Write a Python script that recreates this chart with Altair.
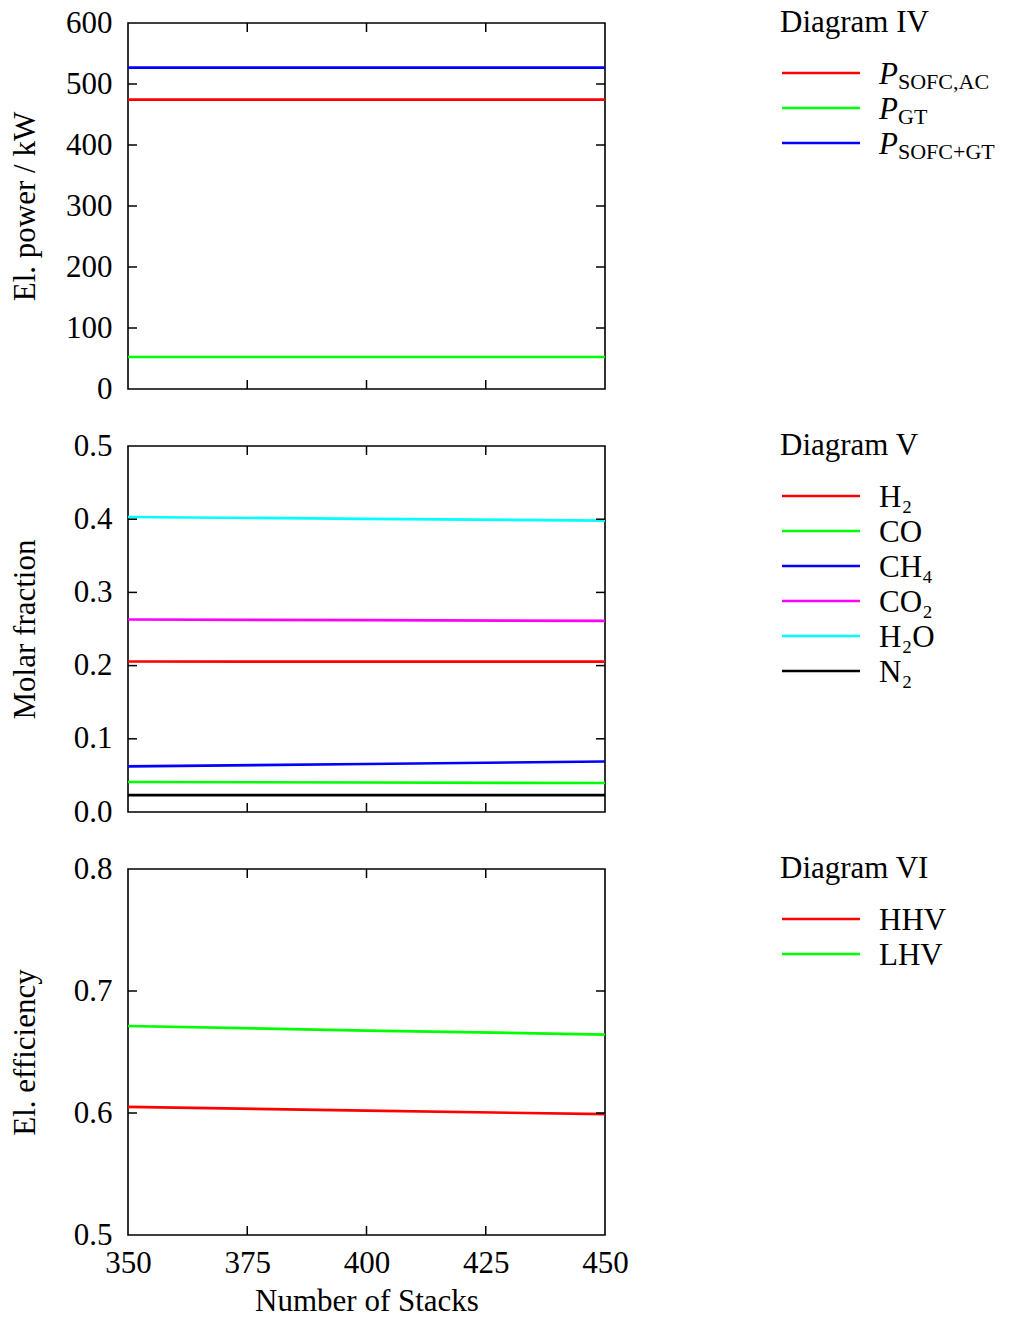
import altair as alt
import pandas as pd

FONT = "Liberation Serif"
W, H = 477, 366
FS = 31

stacks = [350, 400, 450]
x_tick_values = [350, 375, 400, 425, 450]

# Diagram IV - electrical power (kW)
iv_names = ["P_SOFC,AC", "P_GT", "P_SOFC+GT"]
iv_main = ["P", "P", "P"]
iv_sub = ["SOFC,AC", "GT", "SOFC+GT"]
iv_colors = ["#ff0000", "#00ff00", "#0000ff"]
p_sofc_ac = [474.5, 474.5, 474.5]
p_gt = [52.5, 52.5, 52.5]
p_sofc_gt = [527.0, 527.0, 527.0]

# Diagram V - molar fractions
v_names = ["H2", "CO", "CH4", "CO2", "H2O", "N2"]
v_labels = ["H₂", "CO", "CH₄", "CO₂", "H₂O", "N₂"]
v_colors = ["#ff0000", "#00ff00", "#0000ff", "#ff00ff", "#00ffff", "#000000"]
x_h2 = [0.2056, 0.2055, 0.2054]
x_co = [0.0410, 0.0403, 0.0396]
x_ch4 = [0.0622, 0.0656, 0.0690]
x_co2 = [0.2630, 0.2620, 0.2610]
x_h2o = [0.4030, 0.4005, 0.3980]
x_n2 = [0.0230, 0.0230, 0.0230]

# Diagram VI - electrical efficiency
vi_names = ["HHV", "LHV"]
vi_colors = ["#ff0000", "#00ff00"]
eff_hhv = [0.6050, 0.6020, 0.5990]
eff_lhv = [0.6713, 0.6676, 0.6643]


def long_df(names, series):
    rows = []
    for name, vals in zip(names, series):
        for n, v in zip(stacks, vals):
            rows.append({"n": n, "v": v, "s": name})
    return pd.DataFrame(rows)


def panel(df, names, colors, ydom, yticks_inner, yticks_all, yfmt, ytitle, bottom):
    xscale = alt.Scale(domain=[350, 450], nice=False, zero=False)
    yscale = alt.Scale(domain=ydom, nice=False, zero=False)
    if bottom:
        xaxis = alt.Axis(values=x_tick_values, format="d", ticks=False, tickSize=0,
                         domain=False, grid=False, labelFont=FONT, labelFontSize=FS,
                         labelColor="black", labelPadding=13, labelFlush=False,
                         title="Number of Stacks", titleFont=FONT, titleFontSize=FS,
                         titleFontWeight="normal", titleColor="black", titlePadding=8)
    else:
        xaxis = None
    yaxis = alt.Axis(values=yticks_all, format=yfmt, ticks=False, tickSize=0,
                     domain=False, grid=False, labelFont=FONT, labelFontSize=FS,
                     labelColor="black", labelPadding=16, labelFlush=False,
                     title=ytitle, titleFont=FONT, titleFontSize=FS,
                     titleFontWeight="normal", titleColor="black",
                     titleAngle=270, titleBaseline="alphabetic", titleAlign="center",
                     titleX=-94, titleY=H / 2)
    X = alt.X("n:Q", scale=xscale, axis=xaxis)
    Y = alt.Y("v:Q", scale=yscale, axis=yaxis)

    lines = alt.Chart(df).mark_line(strokeWidth=2.7, clip=True).encode(
        x=X, y=Y,
        color=alt.Color("s:N", scale=alt.Scale(domain=names, range=colors), legend=None),
    )
    ydf = pd.DataFrame({"v": yticks_inner})
    xdf = pd.DataFrame({"n": [375, 400, 425]})
    tick_style = dict(color="black", strokeWidth=1.5)
    yl = alt.Chart(ydf).mark_rule(**tick_style).encode(y=Y, x=alt.value(0), x2=alt.value(9))
    yr = alt.Chart(ydf).mark_rule(**tick_style).encode(y=Y, x=alt.value(W - 9), x2=alt.value(W))
    xb = alt.Chart(xdf).mark_rule(**tick_style).encode(x=X, y=alt.value(H - 9), y2=alt.value(H))
    xt = alt.Chart(xdf).mark_rule(**tick_style).encode(x=X, y=alt.value(0), y2=alt.value(9))
    return alt.layer(lines, yl, yr, xb, xt).properties(
        width=W, height=H,
        view=alt.ViewBackground(stroke="black", strokeWidth=1.6),
    )


def legend(title, names, labels, subs, colors, italic):
    n = len(names)
    df = pd.DataFrame({"i": list(range(n)), "s": names, "main": labels, "sub": subs})
    ysc = alt.Scale(domain=[-50 / 35, (H - 50) / 35], range=[0, H])
    base = alt.Chart(df).encode(y=alt.Y("i:Q", scale=ysc, axis=None))
    rules = base.mark_rule(strokeWidth=2.7).encode(
        x=alt.value(2), x2=alt.value(80),
        color=alt.Color("s:N", scale=alt.Scale(domain=names, range=colors), legend=None),
    )
    mains = base.mark_text(align="left", baseline="middle", font=FONT, fontSize=FS,
                           fontStyle="italic" if italic else "normal", color="black", dy=2).encode(
        x=alt.value(99), text="main:N")
    layers = [rules, mains]
    if italic:
        subs_l = base.mark_text(align="left", baseline="middle", font=FONT, fontSize=22,
                                color="black", dy=9).encode(x=alt.value(118), text="sub:N")
        layers.append(subs_l)
    tdf = pd.DataFrame({"t": [title]})
    ttl = alt.Chart(tdf).mark_text(align="left", baseline="middle", font=FONT, fontSize=FS,
                                   color="black").encode(x=alt.value(0), y=alt.value(0), text="t:N")
    layers.append(ttl)
    return alt.layer(*layers).properties(
        width=230, height=H,
        view=alt.ViewBackground(strokeWidth=0, strokeOpacity=0),
    )


df_iv = long_df(iv_names, [p_sofc_ac, p_gt, p_sofc_gt])
df_v = long_df(v_names, [x_h2, x_co, x_ch4, x_co2, x_h2o, x_n2])
df_vi = long_df(vi_names, [eff_hhv, eff_lhv])

row1 = alt.hconcat(
    panel(df_iv, iv_names, iv_colors, [0, 600], [100, 200, 300, 400, 500],
          [0, 100, 200, 300, 400, 500, 600], "d", "El. power / kW", False),
    legend("Diagram IV", iv_names, iv_main, iv_sub, iv_colors, True),
    spacing=175, bounds="flush",
).resolve_scale(x="independent", y="independent", color="independent")

row2 = alt.hconcat(
    panel(df_v, v_names, v_colors, [0, 0.5], [0.1, 0.2, 0.3, 0.4],
          [0.0, 0.1, 0.2, 0.3, 0.4, 0.5], ".1f", "Molar fraction", False),
    legend("Diagram V", v_names, v_labels, [""] * 6, v_colors, False),
    spacing=175, bounds="flush",
).resolve_scale(x="independent", y="independent", color="independent")

row3 = alt.hconcat(
    panel(df_vi, vi_names, vi_colors, [0.5, 0.8], [0.6, 0.7],
          [0.5, 0.6, 0.7, 0.8], ".1f", "El. efficiency", True),
    legend("Diagram VI", vi_names, vi_names, ["", ""], vi_colors, False),
    spacing=175, bounds="flush",
).resolve_scale(x="independent", y="independent", color="independent")

chart = alt.vconcat(row1, row2, row3, spacing=24).resolve_scale(
    x="independent", y="independent", color="independent"
).properties(
    padding={"left": 8, "top": 6, "right": 0, "bottom": 5},
).configure(font=FONT).configure_view(strokeWidth=0)

chart.save("out.html", embed_options={"renderer": "svg", "actions": False})
